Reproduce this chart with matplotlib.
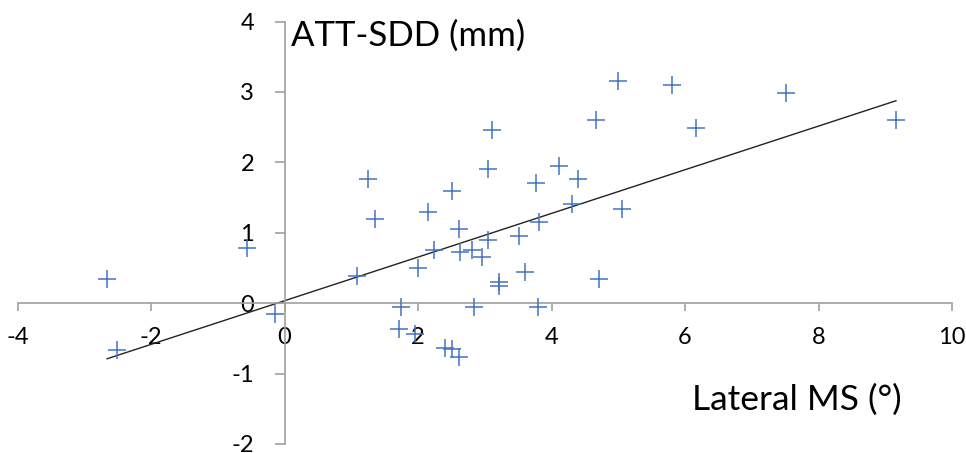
import matplotlib.pyplot as plt

plt.rcParams['font.family'] = ['Lato', 'DejaVu Sans']
plt.rcParams['axes.unicode_minus'] = False

# lateral MS (deg) vs ATT-SDD (mm)
ms = [-2.66, -2.51, -0.56, -0.15, 1.08, 1.25, 1.36, 1.75, 1.71, 1.96,
      2.00, 2.15, 2.24, 2.51, 2.61, 2.63, 2.41, 2.51, 2.61, 2.81,
      2.96, 2.84, 3.04, 3.04, 3.11, 3.21, 3.21, 3.51, 3.60, 3.76,
      3.81, 3.79, 4.11, 4.39, 4.31, 4.66, 4.71, 5.06, 5.00, 5.80,
      6.16, 7.51, 9.16]
att = [0.35, -0.66, 0.79, -0.16, 0.39, 1.76, 1.20, -0.06, -0.36, -0.44,
       0.50, 1.30, 0.75, 1.59, 1.06, 0.72, -0.63, -0.65, -0.76, 0.75,
       0.66, -0.06, 0.89, 1.90, 2.46, 0.30, 0.25, 0.96, 0.44, 1.70,
       1.15, -0.06, 1.95, 1.76, 1.41, 2.60, 0.35, 1.34, 3.15, 3.10,
       2.49, 2.99, 2.60]

# trend line (as drawn)
slope = 0.31
intercept = 0.035

xticks = [-4, -2, 0, 2, 4, 6, 8, 10]
yticks = [-2, -1, 0, 1, 2, 3, 4]

fig = plt.figure(figsize=(9.66, 4.53), dpi=100)
ax = fig.add_axes([0.0183, 0.0199, 0.9672, 0.9326])

ax.plot(ms, att, '+', color='#4472C4', markersize=13, markeredgewidth=1.1, zorder=3)
x0, x1 = min(ms), max(ms)
ax.plot([x0, x1], [slope * x0 + intercept, slope * x1 + intercept],
        color='#222222', lw=1.0, zorder=2)

ax.set_xlim(-4, 10)
ax.set_ylim(-2, 4)
ax.set_xticks(xticks)
ax.set_yticks(yticks)

for s in ['top', 'right']:
    ax.spines[s].set_visible(False)
for s in ['left', 'bottom']:
    ax.spines[s].set_position(('data', 0))
    ax.spines[s].set_color('#a0a0a0')
    ax.spines[s].set_linewidth(1.2)

ax.tick_params(axis='x', direction='out', length=6, width=1.2, color='#a0a0a0',
               labelsize=17, pad=11)
ax.tick_params(axis='y', direction='out', length=7, width=1.2, color='#a0a0a0',
               labelsize=17, pad=15)

ax.text(0.1, 3.8, 'ATT-SDD (mm)', fontsize=25, ha='left', va='center')
ax.text(6.1, -1.37, 'Lateral MS (°)', fontsize=25.5, ha='left', va='center')

fig.savefig('out.png', dpi=100)
